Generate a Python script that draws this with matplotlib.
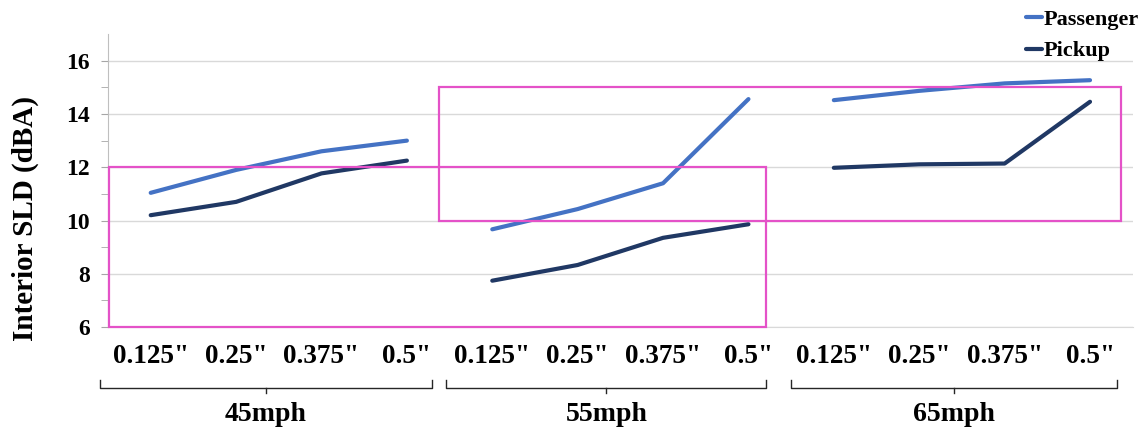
import matplotlib
matplotlib.use("Agg")
import matplotlib.pyplot as plt
import matplotlib.transforms as mtransforms
from matplotlib.patches import Rectangle
from matplotlib.lines import Line2D

plt.rcParams['font.family'] = ['Liberation Serif', 'DejaVu Serif']
plt.rcParams['font.weight'] = 'bold'

# data
speeds = ['45mph', '55mph', '65mph']
gaps = ['0.125"', '0.25"', '0.375"', '0.5"']
passenger = [[11.04, 11.90, 12.60, 13.00],
             [9.67, 10.43, 11.40, 14.56],
             [14.52, 14.87, 15.15, 15.27]]
pickup = [[10.20, 10.70, 11.77, 12.25],
          [7.74, 8.33, 9.35, 9.86],
          [11.98, 12.11, 12.14, 14.46]]

c_pass = '#4472c4'
c_pick = '#203864'
pink = '#e452c8'

fig = plt.figure(figsize=(11.43, 4.32), dpi=100)
ax = fig.add_axes([0.0945, 0.243, 0.8965, 0.678])

n = len(gaps)
for g in range(len(speeds)):
    xs = list(range(g * n, g * n + n))
    ax.plot(xs, passenger[g], color=c_pass, lw=3, solid_capstyle='round', zorder=3)
    ax.plot(xs, pickup[g], color=c_pick, lw=3, solid_capstyle='round', zorder=3)

ax.set_xlim(-0.5, 11.5)
ax.set_ylim(6, 17)
ax.set_yticks([6, 8, 10, 12, 14, 16])
ax.set_yticks([7, 9, 11, 13, 15], minor=True)
ax.set_xticks(range(n * len(speeds)))
ax.set_xticklabels(gaps * len(speeds), fontsize=19.5, fontweight='bold')
ax.tick_params(axis='x', length=0, pad=12)
ax.tick_params(axis='y', which='both', direction='out', length=5, color='#a6a6a6',
               labelsize=17, pad=8)
for lab in ax.get_yticklabels():
    lab.set_fontweight('bold')
ax.grid(axis='y', which='major', color='#d9d9d9', lw=1)
ax.set_axisbelow(True)
for s in ['top', 'right']:
    ax.spines[s].set_visible(False)
ax.spines['left'].set_color('#bfbfbf')
ax.spines['bottom'].set_color('#d9d9d9')
ax.set_ylabel('Interior SLD (dBA)', fontsize=21, fontweight='bold')
ax.yaxis.set_label_coords(-0.067, 0.37)

# highlight boxes
ax.add_patch(Rectangle((-0.49, 6.0), 7.7, 6.0, fill=False, ec=pink, lw=1.6, zorder=4, clip_on=False))
ax.add_patch(Rectangle((3.38, 10.0), 7.98, 5.0, fill=False, ec=pink, lw=1.6, zorder=4, clip_on=False))

# group brackets
trans = mtransforms.blended_transform_factory(ax.transData, ax.transAxes)
spans = [(-0.59, 3.29), (3.46, 7.21), (7.5, 11.32)]
for (x0, x1), name in zip(spans, speeds):
    xm = (x0 + x1) / 2
    ax.plot([x0, x0, x1, x1], [-0.181, -0.208, -0.208, -0.181], color='#262626', lw=1,
            transform=trans, clip_on=False)
    ax.plot([xm, xm], [-0.208, -0.226], color='#262626', lw=1, transform=trans, clip_on=False)
    ax.text(xm, -0.30, name, transform=trans, ha='center', va='center',
            fontsize=20, fontweight='bold')

handles = [Line2D([], [], color=c_pass, lw=3, solid_capstyle='round'),
           Line2D([], [], color=c_pick, lw=3, solid_capstyle='round')]
fig.legend(handles, ['Passenger', 'Pickup'], loc='upper right', bbox_to_anchor=(1.014, 1.025),
           frameon=False, handlelength=0.7, handletextpad=0.1, labelspacing=0.5,
           prop={'size': 16, 'weight': 'bold'})

fig.savefig('out.png', dpi=100)
